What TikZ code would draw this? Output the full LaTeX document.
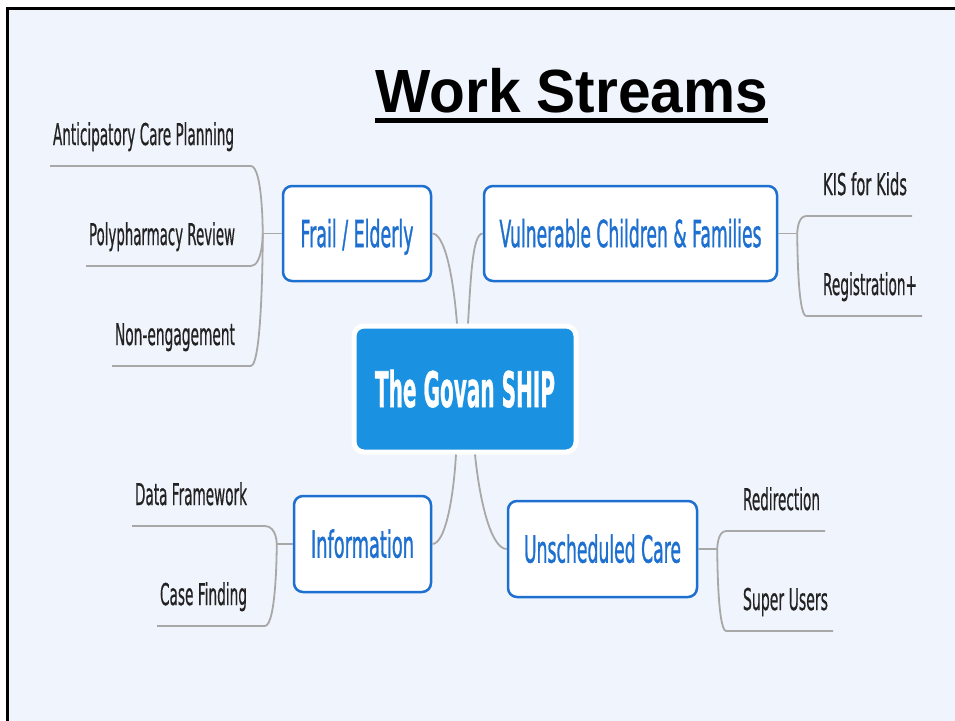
\documentclass[tikz,border=0pt]{standalone}
\usepackage{fontspec}
\usepackage{graphicx}
\usetikzlibrary{calc}
\newfontfamily\mmfont[FakeBold=0.8]{DejaVu Sans}
\newfontfamily\mmfonttopic[FakeBold=1.6]{DejaVu Sans}
\newfontfamily\mmfontctr[FakeBold=1.2]{DejaVu Sans Bold}
\newfontfamily\titlefont{Liberation Sans}
\newcommand\fitw[2]{\resizebox{#1pt}{\height}{#2}}
\definecolor{bgblue}{RGB}{240,244,252}
\definecolor{boxblue}{RGB}{30,112,208}
\definecolor{ctrblue}{RGB}{27,145,226}
\definecolor{linegray}{RGB}{168,168,168}
\definecolor{leaftext}{RGB}{34,34,34}
\begin{document}
\begin{tikzpicture}[x=1pt,y=-1pt,
  topic/.style={draw=boxblue, line width=2.5pt, fill=white, rounded corners=9pt, text=boxblue,
    inner sep=0pt, text height=27pt, text depth=0pt, font=\mmfonttopic\fontsize{37}{37}\selectfont},
  central/.style={draw=white, line width=5pt, fill=ctrblue, rounded corners=10pt, text=white,
    inner sep=0pt, text height=36pt, text depth=0pt, font=\mmfontctr\fontsize{49}{49}\selectfont,
    minimum width=222pt, minimum height=126pt},
  leaf/.style={inner sep=0pt, outer sep=0pt, anchor=base west, text=leaftext, text height=22pt,
    text depth=21pt, font=\mmfont\fontsize{30}{30}\selectfont},
  branch/.style={draw=linegray, line width=1.8pt},
  ulbar/.style={line width=5pt}
]
\useasboundingbox (0,0) rectangle (955,720);
\clip (0,0) rectangle (955,720);
\fill[white] (0,0) rectangle (955,720);
\draw[line width=3pt, fill=bgblue] (7.5,8.5) rectangle (975,740);

% title
\node[anchor=base west, inner sep=0pt, text depth=8pt,
  font=\titlefont\bfseries\fontsize{61}{61}\selectfont] (title) at (375,112) {\fitw{393}{Work Streams}};
\draw[ulbar] (title.south west) -- (title.south east);

% main nodes
\node[central] (ctr) at (465,389) {\fitw{180}{The Govan SHIP}};
\node[topic, minimum width=148pt, minimum height=95pt] (frail) at (357,233.5) {\fitw{113}{Frail / Elderly}};
\node[topic, minimum width=293pt, minimum height=95pt] (vul) at (630.5,233.5) {\fitw{262}{Vulnerable Children \& Families}};
\node[topic, minimum width=137pt, minimum height=96pt] (info) at (362.5,544) {\fitw{103}{Information}};
\node[topic, minimum width=189pt, minimum height=96pt] (unsch) at (602.5,549) {\fitw{157}{Unscheduled Care}};

% leaves
\node[leaf] (acp) at (53,145) {\fitw{181}{Anticipatory Care Planning}};
\node[leaf] (poly) at (89,245) {\fitw{146}{Polypharmacy Review}};
\node[leaf] (neng) at (115,345) {\fitw{120}{Non-engagement}};
\node[leaf] (kis) at (823,195) {\fitw{84}{KIS for Kids}};
\node[leaf] (reg) at (823,295) {\fitw{94}{Registration+}};
\node[leaf] (data) at (135,505) {\fitw{112}{Data Framework}};
\node[leaf] (casef) at (160,605) {\fitw{87}{Case Finding}};
\node[leaf] (redir) at (743,510) {\fitw{77}{Redirection}};
\node[leaf] (super) at (743,610) {\fitw{85}{Super Users}};

% main connectors
\draw[branch] (frail.east) .. controls +(12,0) and +(-4,-50) .. ($(ctr.north)+(-8,0)$);
\draw[branch] (vul.west) .. controls +(-10,0) and +(3,-50) .. ($(ctr.north)+(3,0)$);
\draw[branch] (info.east) .. controls +(12,0) and +(-3,50) .. ($(ctr.south)+(-9,0)$);
\draw[branch] (unsch.west) .. controls +(-15,0) and +(5,50) .. ($(ctr.south)+(10,0)$);

% junctions
\coordinate (jF) at ($(frail.west)+(-19,0)$);
\coordinate (jV) at ($(vul.east)+(19,0)$);
\coordinate (jI) at ($(info.west)+(-16,0)$);
\coordinate (jU) at ($(unsch.east)+(19,0)$);
\draw[branch] (frail.west) -- (jF);
\draw[branch] (vul.east) -- (jV);
\draw[branch] (info.west) -- (jI);
\draw[branch] (unsch.east) -- (jU);

% left leaf brackets
\foreach \lf/\j in {acp/jF, poly/jF, neng/jF, data/jI, casef/jI}{
  \draw[branch] ([xshift=-3pt]\lf.south west) -- ($(\j |- \lf.south)+(-12,0)$)
    .. controls (\j |- \lf.south) and (\j) .. (\j);
}
% right leaf brackets
\foreach \lf/\j in {kis/jV, reg/jV, redir/jU, super/jU}{
  \draw[branch] ([xshift=5pt]\lf.south east) -- ($(\j |- \lf.south)+(9,0)$)
    .. controls (\j |- \lf.south) and (\j) .. (\j);
}
\end{tikzpicture}
\end{document}
